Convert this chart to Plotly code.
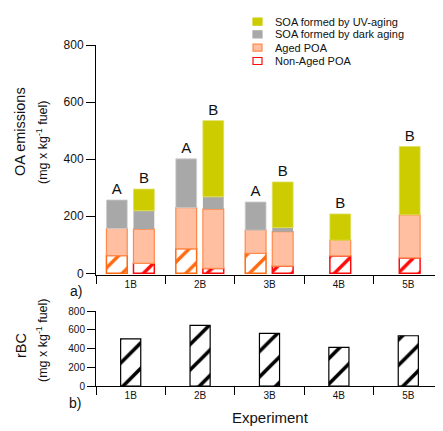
import plotly.graph_objects as go

# ---------------- data ----------------
experiments = ["1B", "2B", "3B", "4B", "5B"]

# "A" bars (dark aging experiments)
exp_a = ["1B", "2B", "3B"]
nonaged_a = [62, 86, 70]
aged_a = [95, 144, 81]
dark_a = [100, 171, 99]
label_a = ["A", "A", "A"]

# "B" bars (UV aging experiments)
exp_b = ["1B", "2B", "3B", "4B", "5B"]
nonaged_b = [35, 17, 25, 61, 54]
aged_b = [120, 208, 121, 55, 151]
dark_b = [64, 43, 14, 0, 0]
uv_b = [76, 267, 160, 92, 239]
label_b = ["B", "B", "B", "B", "B"]

# rBC emissions
rbc = [505, 649, 563, 413, 538]

legend_labels = ["SOA formed by UV-aging", "SOA formed by dark aging",
                 "Aged POA", "Non-Aged POA"]

# ---------------- styles ----------------
FONT = "Arial, Liberation Sans, sans-serif"
C_UV = "#CCCC00"
C_DARK = "#A8A8A8"
C_AGED = "#FFBFA0"
C_AGED_LINE = "#FF8A4C"
C_ORANGE = "#FF6A10"
C_RED = "#FF0A0A"

OFF = 8                      # page body margin
W, H = 443 - OFF, 431 - OFF
ML, MR, MT, MB = 96 - OFF, 0, 45 - OFF, 45
PW, PH = W - ML - MR, H - MT - MB

def px2x(px):
    return (px - OFF - ML) / PW

def px2y(py):
    return (H - MB - (py - OFF)) / PH

def cum(*arrs):
    out = []
    run = [0] * len(arrs[0])
    for a in arrs:
        out.append(list(run))
        run = [r + v for r, v in zip(run, a)]
    return out

base_a = cum(nonaged_a, aged_a, dark_a)
base_b = cum(nonaged_b, aged_b, dark_b, uv_b)

BW = 0.30
off_a = -0.35
off_b = [0.04, 0.04, 0.04, -0.13, -0.13]

fig = go.Figure()

def hatch(col, size=15, sol=0.23):
    return dict(shape="/", fgcolor=col, bgcolor="white", size=size,
                solidity=sol, fillmode="overlay", fgopacity=1)

# A bars
fig.add_trace(go.Bar(x=exp_a, y=nonaged_a, base=base_a[0], width=BW, offset=off_a,
                     marker=dict(color="white", line=dict(color=C_ORANGE, width=1.5),
                                 pattern=hatch(C_ORANGE)), showlegend=False))
fig.add_trace(go.Bar(x=exp_a, y=aged_a, base=base_a[1], width=BW, offset=off_a,
                     marker=dict(color=C_AGED, line=dict(color=C_AGED_LINE, width=1.2)),
                     showlegend=False))
fig.add_trace(go.Bar(x=exp_a, y=dark_a, base=base_a[2], width=BW, offset=off_a,
                     marker=dict(color=C_DARK, line=dict(color="#CFCFCF", width=0.8)),
                     text=label_a, textposition="outside", cliponaxis=False,
                     constraintext="none",
                     textfont=dict(family=FONT, size=15, color="#111"),
                     showlegend=False))

# B bars
fig.add_trace(go.Bar(x=exp_b, y=nonaged_b, base=base_b[0], width=BW, offset=off_b,
                     marker=dict(color="white", line=dict(color=C_RED, width=1.5),
                                 pattern=hatch(C_RED)), showlegend=False))
fig.add_trace(go.Bar(x=exp_b, y=aged_b, base=base_b[1], width=BW, offset=off_b,
                     marker=dict(color=C_AGED, line=dict(color=C_AGED_LINE, width=1.2)),
                     showlegend=False))
fig.add_trace(go.Bar(x=exp_b, y=dark_b, base=base_b[2], width=BW, offset=off_b,
                     marker=dict(color=C_DARK, line=dict(width=0)),
                     showlegend=False))
fig.add_trace(go.Bar(x=exp_b, y=uv_b, base=base_b[3], width=BW, offset=off_b,
                     marker=dict(color=C_UV, line=dict(color="#DEDE60", width=0.8)),
                     text=label_b, textposition="outside", cliponaxis=False,
                     constraintext="none",
                     textfont=dict(family=FONT, size=15, color="#111"),
                     showlegend=False))

# rBC bars
fig.add_trace(go.Bar(x=experiments, y=rbc, width=0.29, xaxis="x2", yaxis="y2",
                     marker=dict(color="white", line=dict(color="black", width=1.2),
                                 pattern=hatch("black", size=18, sol=0.2)),
                     showlegend=False))

top_bottom_px = 274.6
bot_top_px = 311.3

axis_common = dict(showline=True, linecolor="black", linewidth=1, showgrid=False,
                   zeroline=False, ticks="outside", tickcolor="black")

fig.update_layout(
    width=W, height=H,
    margin=dict(l=ML, r=MR, t=MT, b=MB),
    paper_bgcolor="white", plot_bgcolor="white",
    barmode="overlay",
    font=dict(family=FONT, color="#111"),
    xaxis=dict(**axis_common, type="category", categoryorder="array",
               categoryarray=experiments, tickson="boundaries", ticklen=8,
               tickfont=dict(size=10), anchor="y", domain=[0, 1],
               range=[-0.5, 4.5]),
    yaxis=dict(**axis_common, range=[-4.5, 800], tickvals=[0, 200, 400, 600, 800],
               ticklen=9, tickfont=dict(size=12), domain=[px2y(top_bottom_px), 1],
               anchor="x"),
    xaxis2=dict(**axis_common, type="category", categoryorder="array",
                categoryarray=experiments, tickson="boundaries", ticklen=8,
                tickfont=dict(size=10), anchor="y2", domain=[0, 1],
                range=[-0.5, 4.5]),
    yaxis2=dict(**axis_common, range=[0, 800], tickvals=[0, 200, 400, 600, 800],
                ticklen=8, tickfont=dict(size=10), domain=[0, px2y(bot_top_px)],
                anchor="x2"),
)

ann = []
def text_ann(txt, px, py, size, angle=0, xanchor="center"):
    ann.append(dict(text=txt, x=px2x(px), y=px2y(py), xref="paper", yref="paper",
                    showarrow=False, textangle=angle, xanchor=xanchor, yanchor="middle",
                    font=dict(family=FONT, size=size, color="#111")))

text_ann("OA emissions", 20, 132, 14.5, -90)
text_ann("(mg x kg<sup>-1</sup> fuel)", 42, 142, 12.5, -90)
text_ann("rBC", 21, 346, 14.5, -90)
text_ann("(mg x kg<sup>-1</sup> fuel)", 42, 340, 12.5, -90)
text_ann("a)", 76, 291, 14)
text_ann("b)", 75, 403, 14)
text_ann("Experiment", 270, 417, 15)

# manual compact legend
leg_rows = [21.7, 34.3, 47.7, 61.0]
leg_fill = [C_UV, C_DARK, C_AGED, "white"]
leg_line = [C_UV, C_DARK, C_AGED_LINE, C_RED]
shapes = []
for lab, ry, fc, lc in zip(legend_labels, leg_rows, leg_fill, leg_line):
    shapes.append(dict(type="rect", xref="paper", yref="paper",
                       x0=px2x(253), x1=px2x(262), y0=px2y(ry + 3.5), y1=px2y(ry - 3.5),
                       fillcolor=fc, line=dict(color=lc, width=1.2)))
    text_ann(lab, 273, ry, 11, 0, "left")

fig.update_layout(annotations=ann, shapes=shapes)

fig.write_html("out.html")
